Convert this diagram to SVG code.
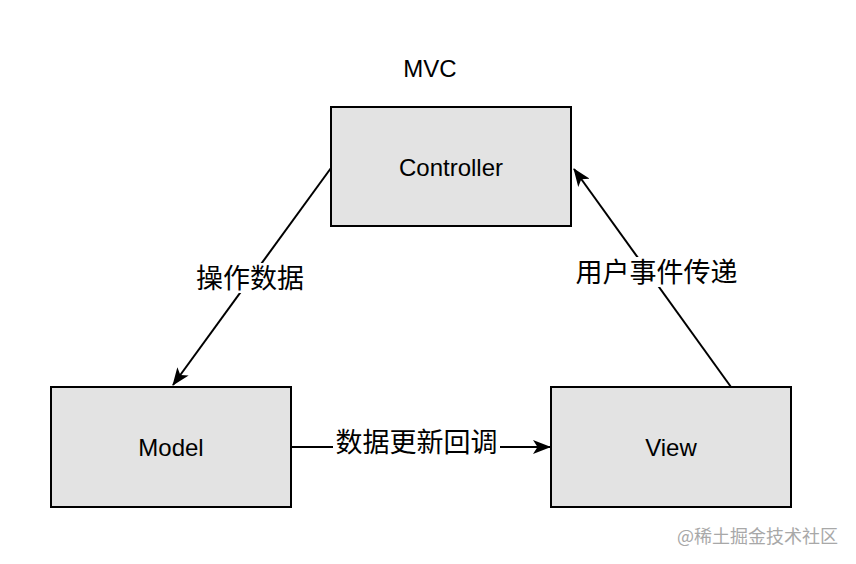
<svg xmlns="http://www.w3.org/2000/svg" width="856" height="564" viewBox="0 0 856 564">
<style>
.box{fill:#e3e3e3;stroke:#000;stroke-width:2}
.t{font-family:"Liberation Sans",Arial,sans-serif;font-size:24px;fill:#000;text-anchor:middle}
.zh{font-family:"Noto Sans CJK SC","Noto Sans",sans-serif;font-size:27px;fill:#000;text-anchor:middle}
.lbg{fill:#fff}
.edge{stroke:#000;stroke-width:2;fill:none}
.wm{font-family:"Noto Sans CJK SC","Noto Sans",sans-serif;font-size:18px;fill:#a8a8a8}
</style>
<defs>
<marker id="ah" viewBox="0 0 18 14" refX="17" refY="7" markerWidth="18" markerHeight="14" markerUnits="userSpaceOnUse" orient="auto">
<path d="M0,0 L18,7 L0,14 L4.5,7 Z" fill="#000"/>
</marker>
</defs>
<rect width="856" height="564" fill="#fff"/>
<text class="t" x="430" y="77">MVC</text>
<g id="connectors">
<line class="edge" x1="331" y1="168" x2="173" y2="385" marker-end="url(#ah)"/>
<line class="edge" x1="731" y1="387" x2="574" y2="169" marker-end="url(#ah)"/>
<line class="edge" x1="291" y1="447" x2="550" y2="447" marker-end="url(#ah)"/>
<g id="label-op">
<rect class="lbg" x="195" y="263" width="110" height="30"/>
<text class="zh" x="250" y="288">操作数据</text>
</g>
<g id="label-ev">
<rect class="lbg" x="573" y="257" width="167" height="30"/>
<text class="zh" x="656.5" y="282">用户事件传递</text>
</g>
<g id="label-cb">
<rect class="lbg" x="333" y="428" width="167" height="30"/>
<text class="zh" x="416.5" y="452">数据更新回调</text>
</g>
</g>
<g id="controller">
<rect class="box" x="331" y="107" width="240" height="119"/>
<text class="t" x="451" y="176">Controller</text>
</g>
<g id="model">
<rect class="box" x="51" y="387" width="240" height="120"/>
<text class="t" x="171" y="456">Model</text>
</g>
<g id="view">
<rect class="box" x="551" y="387" width="240" height="120"/>
<text class="t" x="671" y="456">View</text>
</g>
<text class="wm" x="677" y="543">@稀土掘金技术社区</text>
</svg>
